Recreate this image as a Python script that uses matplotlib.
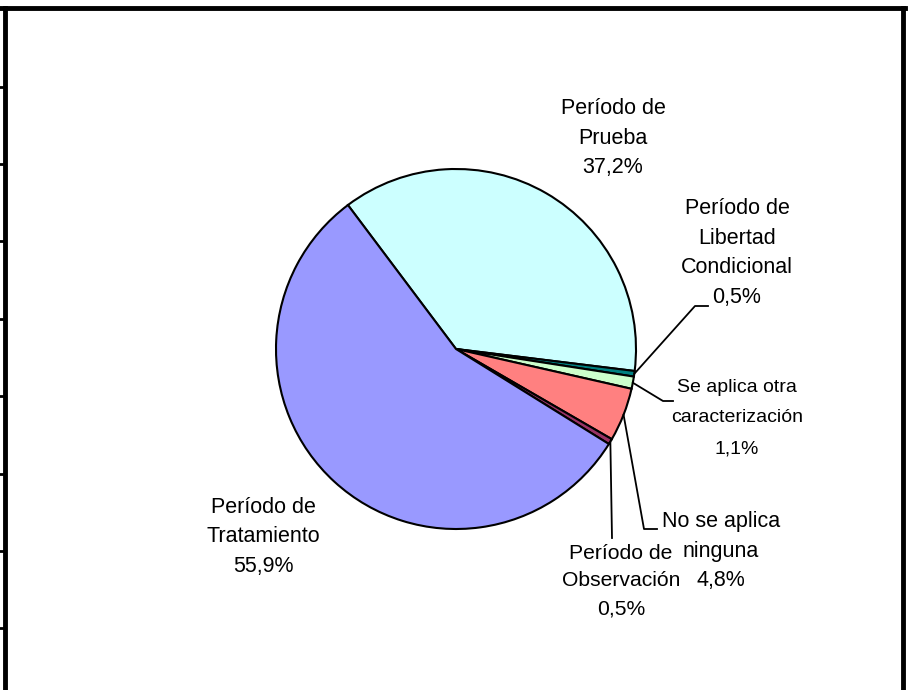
import matplotlib.pyplot as plt
from matplotlib.lines import Line2D
import numpy as np

# slice data (clockwise from the top-left)
labels = ["Período de\nPrueba", "Período de\nLibertad\nCondicional", "Se aplica otra\ncaracterización",
          "No se aplica\nninguna", "Período de\nObservación", "Período de\nTratamiento"]
values = [37.2, 0.5, 1.1, 4.8, 0.5, 55.9]
colors = ["#CCFFFF", "#008080", "#CCFFCC", "#FF8080", "#993366", "#9999FF"]

plt.rcParams['font.family'] = ['Liberation Sans', 'DejaVu Sans']

W, H = 910, 690
fig = plt.figure(figsize=(9.1, 6.9), dpi=100)
fig.patch.set_facecolor("white")

# pie centre (456, 349) px, radius 180 px
cx, cy, r = 456, 349, 180
ax = fig.add_axes([(cx - r) / W, (H - cy - r) / H, 2 * r / W, 2 * r / H])
wedges, _ = ax.pie(values, colors=colors, startangle=126.9, counterclock=False, radius=1,
                   wedgeprops=dict(edgecolor="black", linewidth=1.5))
ax.set_xlim(-1, 1)
ax.set_ylim(-1, 1)
ax.set_aspect("equal")
ax.axis("off")


def px(x, y):
    # pixel position -> pie data coordinates
    return (x - cx) / r, (cy - y) / r


def edge(w):
    a = np.deg2rad((w.theta1 + w.theta2) / 2)
    return np.cos(a), np.sin(a)


# label positions (pixels), font sizes and line spacing
pos = [(613, 138), (737, 253), (737, 418), (721, 551), (621, 581), (263, 537)]
sizes = [15.5, 15.5, 14, 15.5, 15.2, 15.5]
spacing = [1.55, 1.55, 2.04, 1.55, 1.57, 1.55]
for i in range(len(values)):
    txt = labels[i] + "\n" + ("%.1f%%" % values[i]).replace(".", ",")
    x, y = px(*pos[i])
    ax.text(x, y, txt, ha="center", va="center", fontsize=sizes[i], linespacing=spacing[i],
            clip_on=False)

# leader lines for the small slices
elbows = {1: [(695, 306), (708, 306)], 2: [(663, 401), (673, 401)],
          3: [(644, 529), (657, 529)], 4: [(612, 538)]}
for i, pts in elbows.items():
    x0, y0 = edge(wedges[i])
    xs = [x0] + [px(*p)[0] for p in pts]
    ys = [y0] + [px(*p)[1] for p in pts]
    ax.plot(xs, ys, color="black", lw=1.3, clip_on=False)

# outer frame (open at the bottom) with small ticks on the left side
frame_kw = dict(color="black", lw=3.5, transform=fig.transFigure)
fig.add_artist(Line2D([0, 905 / W], [1 - 8 / H, 1 - 8 / H], **frame_kw))
fig.add_artist(Line2D([5 / W, 5 / W], [0, 1 - 8 / H], **frame_kw))
fig.add_artist(Line2D([903 / W, 903 / W], [0, 1 - 8 / H], **frame_kw))
for ty in [87, 164, 241, 319, 396, 474, 551, 628]:
    fig.add_artist(Line2D([0, 5 / W], [1 - ty / H, 1 - ty / H], color="black", lw=2,
                          transform=fig.transFigure))

fig.savefig("out.png", dpi=100)
